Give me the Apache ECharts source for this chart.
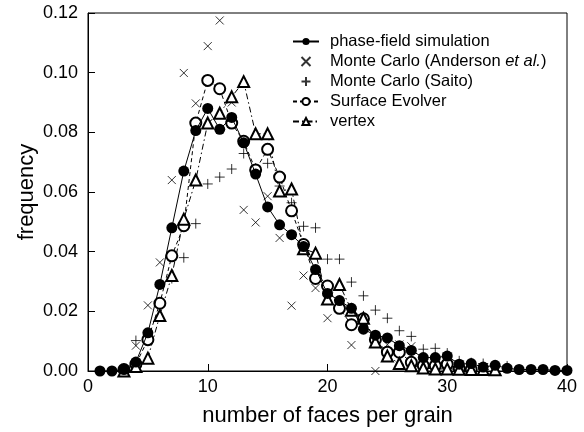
<!DOCTYPE html>
<html>
<head>
<meta charset="utf-8">
<script src="https://cdn.jsdelivr.net/npm/echarts@6/dist/echarts.min.js"></script>
<style>html,body{margin:0;padding:0;background:#fff;}#c{width:584px;height:432px;}</style>
</head>
<body>
<div id="c"></div>
<script>
// x values (number of faces per grain) for each series
const nPhaseField = [1,2,3,4,5,6,7,8,9,10,11,12,13,14,15,16,17,18,19,20,21,22,23,24,25,26,27,28,29,30,31,32,33,34,35,36,37,38,39,40];
const phaseField = [0,0,0.0005,0.003,0.0128,0.029,0.048,0.067,0.0806,0.088,0.081,0.085,0.0765,0.066,0.055,0.049,0.0457,0.0417,0.034,0.026,0.0236,0.021,0.014,0.012,0.0111,0.0085,0.0069,0.0045,0.0045,0.005,0.0023,0.0025,0.0013,0.0019,0.0009,0.0005,0.0005,0.0005,0.0002,0.0002];

const nAnderson = [4,5,6,7,8,9,10,11,12,13,14,15,16,17,18,19,20,21,22,23,24,25,26,27];
const anderson = [0.0085,0.022,0.0364,0.064,0.0999,0.0897,0.1089,0.1175,0.090,0.054,0.0498,0.0586,0.0446,0.0219,0.032,0.0278,0.0177,0.021,0.0087,0.0177,0,0.0088,0.0089,0.0083];

const nSaito = [4,5,6,7,8,9,10,11,12,13,14,15,16,17,18,19,20,21,22,23,24,25,26,27,28,29,30,31,32,33,34,35];
const saito = [0.0102,0.012,0.023,0.031,0.038,0.0494,0.0627,0.065,0.0677,0.0729,0.068,0.0696,0.062,0.0564,0.0485,0.048,0.0375,0.0375,0.0298,0.0252,0.0204,0.0177,0.0135,0.0116,0.0073,0.0076,0.006,0.0034,0.0028,0.0025,0.002,0.0017];

const nEvolver = [3,4,5,6,7,8,9,10,11,12,13,14,15,16,17,18,19,20,21,22,23,24,25,26,27,28,29,30,31,32];
const evolver = [0.0005,0.0023,0.0105,0.0227,0.0386,0.0487,0.0831,0.0974,0.0946,0.0831,0.077,0.0674,0.0743,0.065,0.0537,0.0424,0.031,0.0285,0.021,0.0155,0.0175,0.0105,0.0063,0.0063,0.0029,0.0018,0.0018,0.0023,0.0008,0.0005];

const nVertex = [3,4,5,6,7,8,9,10,11,12,13,14,15,16,17,18,19,20,21,22,23,24,25,26,27,28,29,30,31,32,33,34];
const vertex = [0,0.0015,0.0043,0.0186,0.032,0.0509,0.064,0.0831,0.0864,0.0919,0.097,0.0795,0.0795,0.0603,0.061,0.041,0.0395,0.0241,0.029,0.0204,0.0177,0.0097,0.005,0.0025,0.0018,0.0010,0.0007,0.0007,0.0006,0.0005,0.0005,0.0004];

const xTicks = [0,10,20,30,40];
const yTicks = [0,0.02,0.04,0.06,0.08,0.10,0.12];

const seriesNames = ['phase-field simulation','Monte Carlo (Anderson et al.)','Monte Carlo (Saito)','Surface Evolver','vertex'];

const zip = (xs, ys) => xs.map((x, i) => [x, ys[i]]);

const crossPath = 'path://M0,0L10,10M10,0L0,10';
const plusPath = 'path://M5,0L5,10M0,5L10,5';

const chart = echarts.init(document.getElementById('c'), null, {renderer: 'canvas'});
const FONT = 'Liberation Sans, Arial, Helvetica, sans-serif';

chart.setOption({
  animation: false,
  backgroundColor: '#fff',
  grid: {left: 88, top: 13, width: 479, height: 364, show: true, borderColor: '#000', borderWidth: 1, backgroundColor: 'transparent'},
  legend: {
    orient: 'vertical',
    left: 287,
    top: 28,
    padding: 5,
    itemWidth: 26,
    itemHeight: 9,
    itemGap: 3,
    data: seriesNames,
    inactiveColor: '#000',
    textStyle: {
      fontFamily: FONT, fontSize: 16.5, color: '#000', lineHeight: 16,
      rich: {
        n: {fontFamily: FONT, fontSize: 16.5, color: '#000', lineHeight: 16, padding: [0,0,0,6]},
        m: {fontFamily: FONT, fontSize: 16.5, color: '#000', lineHeight: 16},
        i: {fontFamily: FONT, fontSize: 16.5, color: '#000', lineHeight: 16, fontStyle: 'italic'}
      }
    },
    formatter: function (name) {
      if (name === 'Monte Carlo (Anderson et al.)') {
        return '{n|Monte Carlo (Anderson }{i|et al.}{m|)}';
      }
      return '{n|' + name + '}';
    }
  },
  xAxis: {
    type: 'value', min: xTicks[0], max: xTicks[xTicks.length - 1], interval: 10,
    name: 'number of faces per grain', nameLocation: 'middle', nameGap: 34,
    nameMoveOverlap: false,
    nameTextStyle: {fontFamily: FONT, fontSize: 22, color: '#000'},
    axisLine: {lineStyle: {color: '#000', width: 1}},
    axisTick: {inside: true, length: 7, lineStyle: {color: '#000'}},
    axisLabel: {fontFamily: FONT, fontSize: 18, color: '#000', margin: 7},
    splitLine: {show: false}
  },
  yAxis: {
    type: 'value', min: yTicks[0], max: yTicks[yTicks.length - 1], interval: 0.02,
    name: 'frequency', nameLocation: 'middle', nameGap: 50,
    nameMoveOverlap: false,
    nameTextStyle: {fontFamily: FONT, fontSize: 22, color: '#000'},
    axisLine: {show: true, lineStyle: {color: '#000', width: 1}},
    axisTick: {show: true, inside: true, length: 7, lineStyle: {color: '#000'}},
    axisLabel: {fontFamily: FONT, fontSize: 18, color: '#000', margin: 10, formatter: v => v.toFixed(2)},
    splitLine: {show: false}
  },
  series: [
    {
      name: seriesNames[0], type: 'line', data: zip(nPhaseField, phaseField),
      symbol: 'circle', symbolSize: 11, z: 5,
      lineStyle: {color: '#000', width: 1, type: 'solid'},
      itemStyle: {color: '#000', borderWidth: 0}
    },
    {
      name: seriesNames[1], type: 'scatter', data: zip(nAnderson, anderson),
      symbol: crossPath, symbolSize: 8, z: 3,
      itemStyle: {color: 'rgba(0,0,0,0)', borderColor: '#000', borderWidth: 1}
    },
    {
      name: seriesNames[2], type: 'scatter', data: zip(nSaito, saito),
      symbol: plusPath, symbolSize: 10, z: 3,
      itemStyle: {color: 'rgba(0,0,0,0)', borderColor: '#000', borderWidth: 1}
    },
    {
      name: seriesNames[3], type: 'line', data: zip(nEvolver, evolver),
      symbol: 'emptyCircle', symbolSize: 11, z: 4,
      lineStyle: {color: '#000', width: 1, type: [4, 3]},
      itemStyle: {color: '#000', borderWidth: 1}
    },
    {
      name: seriesNames[4], type: 'line', data: zip(nVertex, vertex),
      symbol: 'emptyTriangle', symbolSize: 11, z: 4,
      lineStyle: {color: '#000', width: 1, type: [6, 3, 1.5, 3]},
      itemStyle: {color: '#000', borderWidth: 1}
    }
  ]
});
</script>
</body>
</html>
